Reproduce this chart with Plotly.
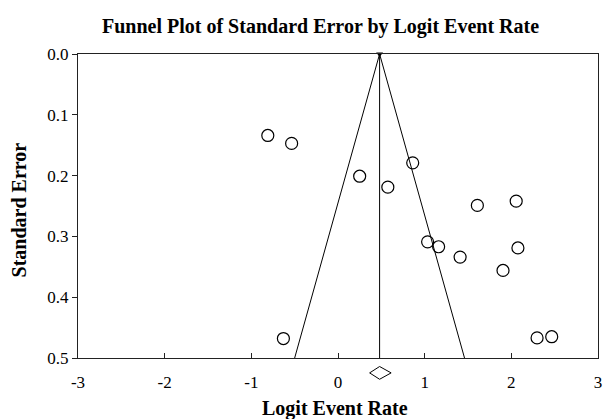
import plotly.graph_objects as go

# Study points: logit event rate vs standard error
logit = [-0.81, -0.535, 0.25, 0.575, 0.862, 1.608, 2.056, 1.034, 1.161, 1.409, 2.076, 1.904, -0.63, 2.297, 2.466]
se = [0.134, 0.147, 0.201, 0.219, 0.179, 0.249, 0.242, 0.309, 0.317, 0.334, 0.319, 0.356, 0.468, 0.467, 0.465]

summary_effect = 0.48
summary_ci_low = 0.365
summary_ci_high = 0.613
max_se = 0.5
z = 1.96

x_ticks = [-3, -2, -1, 0, 1, 2, 3]
y_ticks = [0.0, 0.1, 0.2, 0.3, 0.4, 0.5]

serif = "Liberation Serif"

fig = go.Figure()

# funnel lines
fig.add_trace(go.Scatter(
    x=[summary_effect - z * max_se, summary_effect, summary_effect + z * max_se],
    y=[max_se, 0.0, max_se],
    mode="lines", line=dict(color="black", width=1), showlegend=False, hoverinfo="skip"))
# center line
fig.add_trace(go.Scatter(
    x=[summary_effect, summary_effect], y=[0.0, max_se],
    mode="lines", line=dict(color="black", width=1), showlegend=False, hoverinfo="skip"))
# apex
fig.add_trace(go.Scatter(
    x=[summary_effect], y=[0.0], mode="markers",
    marker=dict(symbol="triangle-down", size=6, color="black"),
    cliponaxis=False, showlegend=False))
# studies
fig.add_trace(go.Scatter(
    x=logit, y=se, mode="markers",
    marker=dict(symbol="circle-open", size=12, color="black", line=dict(width=1.2)),
    showlegend=False))

# summary diamond below the axis (x in data units, y in paper units)
dy_c, dy_h = -0.049, 0.021
fig.add_shape(
    type="path", xref="x", yref="paper",
    path=(f"M {summary_ci_low},{dy_c} L {summary_effect},{dy_c + dy_h} "
          f"L {summary_ci_high},{dy_c} L {summary_effect},{dy_c - dy_h} Z"),
    line=dict(color="black", width=1), fillcolor="rgba(0,0,0,0)")

fig.update_layout(
    width=604, height=419,
    margin=dict(l=78, r=2, t=54, b=61),
    paper_bgcolor="white", plot_bgcolor="white",
    font=dict(family=serif, size=17, color="black"),
    annotations=[
        dict(text="<b>Funnel Plot of Standard Error by Logit Event Rate</b>",
             x=0.466, y=1.092, xref="paper", yref="paper", showarrow=False,
             xanchor="center", yanchor="middle", font=dict(family=serif, size=20)),
        dict(text="<b>Logit Event Rate</b>",
             x=0.494, y=-0.167, xref="paper", yref="paper", showarrow=False,
             xanchor="center", yanchor="middle", font=dict(family=serif, size=20)),
        dict(text="<b>Standard Error</b>", textangle=-90,
             x=-0.1145, y=0.487, xref="paper", yref="paper", showarrow=False,
             xanchor="center", yanchor="middle", font=dict(family=serif, size=20)),
    ],
)

fig.update_xaxes(
    range=[-3, 3], tickvals=x_ticks, ticktext=[str(v) for v in x_ticks],
    showgrid=False, zeroline=False, showline=True, linecolor="#222", linewidth=1.2,
    mirror=True, ticks="inside", ticklen=5, tickcolor="#222",
    ticklabelstandoff=8, ticklabeloverflow="allow", tickfont=dict(size=17))
fig.update_yaxes(
    range=[0.5, 0.0], tickvals=y_ticks, ticktext=[f"{v:.1f}" for v in y_ticks],
    showgrid=False, zeroline=False, showline=True, linecolor="#222", linewidth=1.2,
    mirror=True, ticks="outside", ticklen=5, tickcolor="#222",
    tickfont=dict(size=17))

page_css = (
    "document.documentElement.style.overflow='hidden';"
    "document.body.style.margin='0';"
    "document.body.style.overflow='hidden';"
    "var gd=document.getElementById('{plot_id}');"
    "gd.style.overflow='hidden';"
    "if(gd.parentNode){gd.parentNode.style.overflow='hidden';"
    "gd.parentNode.style.width='604px';gd.parentNode.style.height='419px';}"
    "gd.querySelectorAll('svg.main-svg').forEach(function(s){s.style.overflow='hidden';});"
)
fig.write_html("out.html", post_script=page_css, config={"displayModeBar": False})
